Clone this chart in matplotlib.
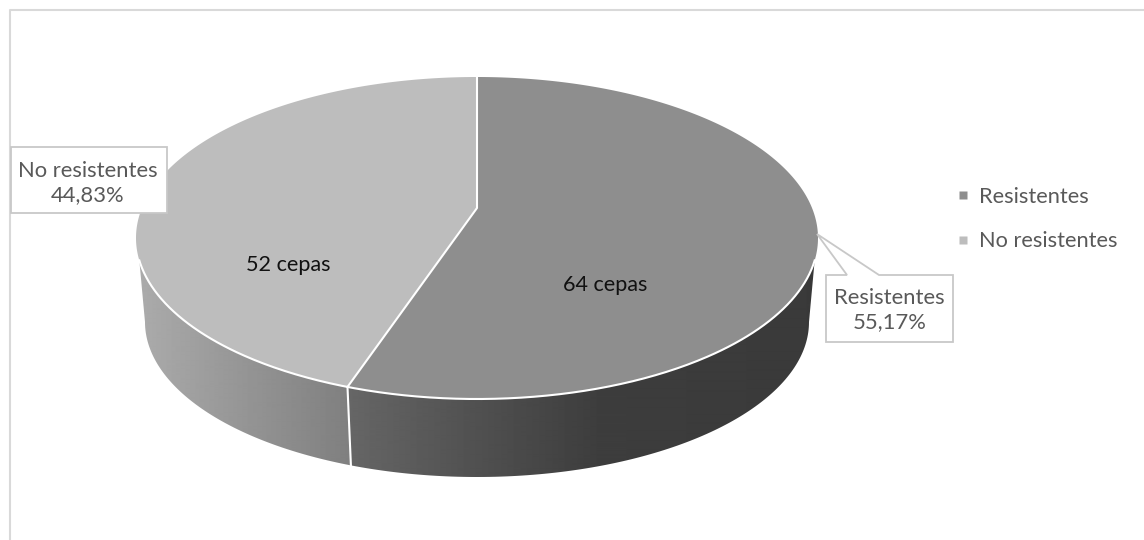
#!/usr/bin/env python3
"""3D-looking pie of resistant vs non resistant strains."""

import matplotlib
matplotlib.use('Agg')
import matplotlib.pyplot as plt
import numpy as np
from matplotlib.lines import Line2D
from matplotlib.patches import Polygon, Rectangle

categories = ['Resistentes', 'No resistentes']
strains = [64, 52]
top_colors = ['#8e8e8e', '#bdbdbd']

plt.rcParams['font.family'] = ['Lato', 'DejaVu Sans']

# everything below is in pixels of the 1144x540 canvas
TOP = (477, 238, 341, 161)
BOTTOM = (477, 322, 332, 155)
HUB = (477, 208)
VIEW_SHIFT = 3.7  # perspective moves the split a little along the rim
WALL_START = 98


def rim(ell, deg):
    cx, cy, rx, ry = ell
    t = np.radians(deg)
    return np.column_stack([cx + rx * np.sin(t), cy - ry * np.cos(t)])


def wall(ax, a_top, b_top, a_bot, b_bot, xs, shades):
    n = 120
    pts = np.vstack([rim(TOP, np.linspace(a_top, b_top, n)),
                     rim(BOTTOM, np.linspace(b_bot, a_bot, n))])
    grad = np.interp(np.arange(120, 830), xs, shades)[None, :]
    im = ax.imshow(grad, extent=(120, 830, 500, 200), cmap='gray', vmin=0, vmax=1,
                   aspect='auto', zorder=1, interpolation='bilinear')
    im.set_clip_path(Polygon(pts, transform=ax.transData))


def main():
    fig = plt.figure(figsize=(11.44, 5.4), dpi=100)
    ax = fig.add_axes([0, 0, 1, 1])

    split = 360 * strains[0] / sum(strains) + VIEW_SHIFT

    wall(ax, WALL_START, split, 90, split, [350, 470, 600, 830],
         [0.40, 0.32, 0.24, 0.225])
    wall(ax, split, 360 - WALL_START, split, 270, [140, 250, 350],
         [0.67, 0.58, 0.50])

    arcs = [np.linspace(0, split, 300), np.linspace(split, 360, 300)]
    for arc, col in zip(arcs, top_colors):
        pts = np.vstack([[HUB], rim(TOP, arc)])
        ax.add_patch(Polygon(pts, closed=True, fc=col, ec='none', zorder=2))

    # white seams
    front = rim(TOP, np.linspace(WALL_START, 360 - WALL_START, 300))
    ax.plot(front[:, 0], front[:, 1], color='white', lw=1.5, zorder=3)
    start = rim(TOP, [0])[0]
    edge = rim(TOP, [split])[0]
    low = rim(BOTTOM, [split])[0]
    ax.plot([start[0], HUB[0], edge[0]], [start[1], HUB[1], edge[1]],
            color='white', lw=1.5, zorder=3)
    ax.plot([edge[0], low[0]], [edge[1], low[1]], color='white', lw=1.5, zorder=3)

    # chart frame, only top and left show
    ax.plot([10, 10, 1144], [540, 10, 10], color='#d9d9d9', lw=1.5, zorder=0)

    pct = [f"{100 * v / sum(strains):.2f}".replace('.', ',') + '%' for v in strains]

    ax.text(605, 285, f'{strains[0]} cepas', color='#111111', fontsize=15.6,
            ha='center', va='center', zorder=5)
    ax.text(288, 265, f'{strains[1]} cepas', color='#111111', fontsize=15.6,
            ha='center', va='center', zorder=5)

    # data callouts
    ax.add_patch(Polygon([(826, 275), (847, 275), (817, 234), (879, 275), (953, 275),
                          (953, 342), (826, 342)], closed=True, fc='white',
                         ec='#c8c8c8', lw=1.3, zorder=4))
    ax.text(889.5, 310, f'{categories[0]}\n{pct[0]}', color='#595959', fontsize=15.8,
            ha='center', va='center', linespacing=1.24, zorder=5)
    ax.add_patch(Rectangle((11, 147), 156, 66, fc='white', ec='#c8c8c8', lw=1.3, zorder=4))
    ax.text(88, 183, f'{categories[1]}\n{pct[1]}', color='#595959', fontsize=15.8,
            ha='center', va='center', linespacing=1.24, zorder=5)

    handles = [Line2D([], [], ls='none', marker='s', ms=5.5, mfc=c, mec='none')
               for c in top_colors]
    leg = ax.legend(handles, categories, loc='upper left', bbox_to_anchor=(948.5, 187),
                    bbox_transform=ax.transData, frameon=False, fontsize=15.7,
                    labelcolor='#595959', handletextpad=0.12, handlelength=1.3,
                    labelspacing=1.11, borderpad=0, borderaxespad=0)
    leg.set_zorder(5)

    ax.set_xlim(0, 1144)
    ax.set_ylim(540, 0)
    ax.axis('off')
    fig.savefig('out.png', dpi=100)
    plt.close(fig)


if __name__ == '__main__':
    main()
